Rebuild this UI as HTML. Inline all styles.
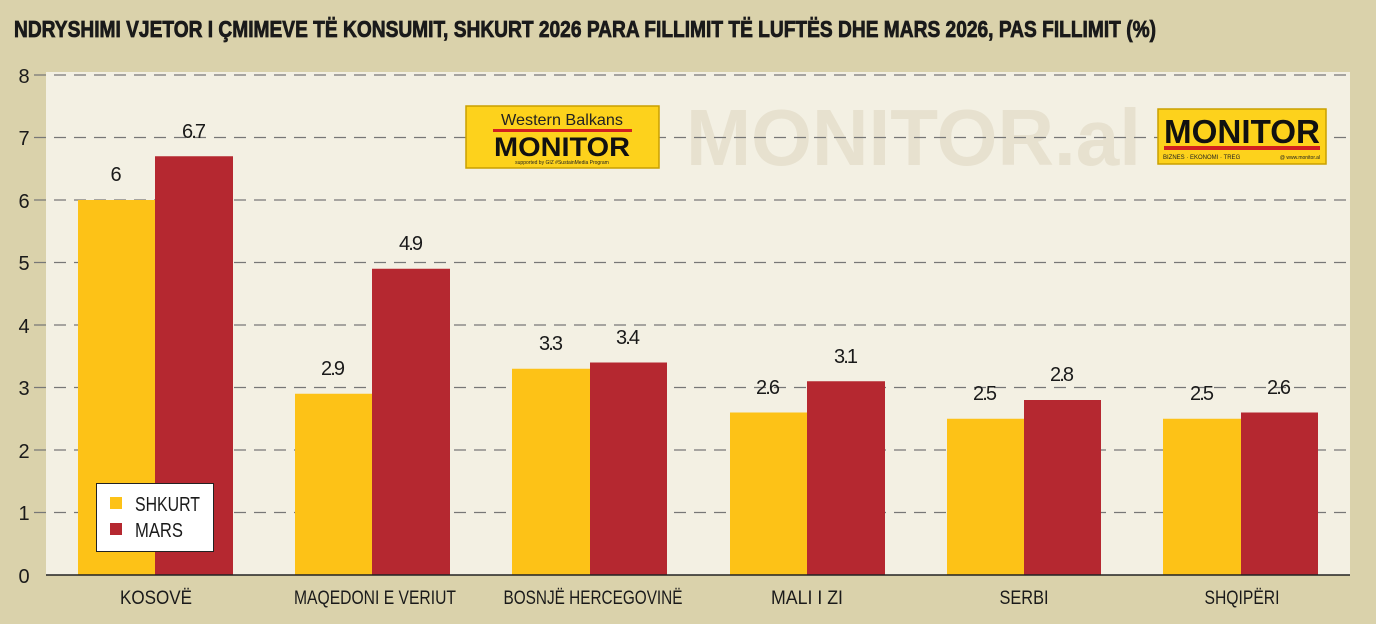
<!DOCTYPE html>
<html><head><meta charset="utf-8"><style>
html,body{margin:0;padding:0;background:#dad2ab;}
svg{display:block}
</style></head><body>
<svg width="1376" height="624" viewBox="0 0 1376 624" xmlns="http://www.w3.org/2000/svg" font-family="'Liberation Sans',sans-serif">
<rect width="1376" height="624" fill="#dad2ab"/>
<text x="14" y="37" font-size="23" font-weight="bold" fill="#1a1a1a" stroke="#1a1a1a" stroke-width="0.8" textLength="1142" lengthAdjust="spacingAndGlyphs">NDRYSHIMI VJETOR I ÇMIMEVE TË KONSUMIT, SHKURT 2026 PARA FILLIMIT TË LUFTËS DHE MARS 2026, PAS FILLIMIT (%)</text>
<rect x="46" y="72" width="1304" height="503" fill="#f3f0e3"/>
<text x="686" y="165" font-size="80" font-weight="bold" fill="#e7e1cf" textLength="455" lengthAdjust="spacingAndGlyphs">MONITOR.al</text>
<g stroke="#777" stroke-width="1.3" stroke-dasharray="12,8">
<line x1="34" y1="75" x2="1350" y2="75"/>
<line x1="34" y1="137.5" x2="1350" y2="137.5"/>
<line x1="34" y1="200" x2="1350" y2="200"/>
<line x1="34" y1="262.5" x2="1350" y2="262.5"/>
<line x1="34" y1="325" x2="1350" y2="325"/>
<line x1="34" y1="387.5" x2="1350" y2="387.5"/>
<line x1="34" y1="450" x2="1350" y2="450"/>
<line x1="34" y1="512.5" x2="1350" y2="512.5"/>
</g>
<g font-size="20" fill="#1a1a1a" text-anchor="middle">
<text x="24" y="83" textLength="10">8</text><text x="24" y="145" textLength="10">7</text><text x="24" y="208" textLength="10">6</text><text x="24" y="270" textLength="10">5</text><text x="24" y="333" textLength="10">4</text><text x="24" y="395" textLength="10">3</text><text x="24" y="458" textLength="10">2</text><text x="24" y="520" textLength="10">1</text><text x="24" y="583" textLength="10">0</text>
</g>
<!-- logo 1 -->
<rect x="466" y="106" width="193" height="62" fill="#fdd21c" stroke="#c9a000" stroke-width="1.5"/>
<text x="562" y="125" font-size="16" text-anchor="middle" fill="#222" textLength="122" lengthAdjust="spacingAndGlyphs">Western Balkans</text>
<rect x="493" y="129" width="139" height="3" fill="#d32020"/>
<text x="562" y="156" font-size="27" font-weight="bold" text-anchor="middle" fill="#111" textLength="136" lengthAdjust="spacingAndGlyphs">MONITOR</text>
<text x="562" y="164" font-size="5" text-anchor="middle" fill="#222">supported by GIZ #SustainMedia Program</text>
<!-- logo 2 -->
<rect x="1158" y="109" width="168" height="55" fill="#fdd21c" stroke="#c9a000" stroke-width="1.5"/>
<text x="1242" y="143" font-size="33" font-weight="bold" text-anchor="middle" fill="#111" textLength="156" lengthAdjust="spacingAndGlyphs">MONITOR</text>
<rect x="1164" y="146" width="156" height="4" fill="#d32020"/>
<text x="1163" y="159" font-size="6" fill="#222">BIZNES · EKONOMI · TREG</text>
<text x="1320" y="159" font-size="5" fill="#222" text-anchor="end">@ www.monitor.al</text>
<!-- bars -->
<g fill="#fdc217">
<rect x="78" y="200" width="77" height="375"/>
<rect x="295" y="393.75" width="77" height="181.25"/>
<rect x="512" y="368.75" width="78" height="206.25"/>
<rect x="730" y="412.5" width="77" height="162.5"/>
<rect x="947" y="418.75" width="77" height="156.25"/>
<rect x="1163" y="418.75" width="78" height="156.25"/>
</g>
<g fill="#b52830">
<rect x="155" y="156.25" width="78" height="418.75"/>
<rect x="372" y="268.75" width="78" height="306.25"/>
<rect x="590" y="362.5" width="77" height="212.5"/>
<rect x="807" y="381.25" width="78" height="193.75"/>
<rect x="1024" y="400" width="77" height="175"/>
<rect x="1241" y="412.5" width="77" height="162.5"/>
</g>
<line x1="46" y1="575" x2="1350" y2="575" stroke="#222" stroke-width="1.5"/>
<g font-size="20" fill="#1a1a1a" text-anchor="middle" lengthAdjust="spacingAndGlyphs">
<text x="116" y="181" textLength="10">6</text><text x="194" y="138" textLength="24">6.7</text>
<text x="333" y="375" textLength="24">2.9</text><text x="411" y="250" textLength="24">4.9</text>
<text x="551" y="350" textLength="24">3.3</text><text x="628" y="344" textLength="24">3.4</text>
<text x="768" y="394" textLength="24">2.6</text><text x="846" y="363" textLength="24">3.1</text>
<text x="985" y="400" textLength="24">2.5</text><text x="1062" y="381" textLength="24">2.8</text>
<text x="1202" y="400" textLength="24">2.5</text><text x="1279" y="394" textLength="24">2.6</text>
</g>
<g font-size="19" fill="#1a1a1a" text-anchor="middle">
<text x="156" y="604" textLength="72" lengthAdjust="spacingAndGlyphs">KOSOVË</text>
<text x="375" y="604" textLength="162" lengthAdjust="spacingAndGlyphs">MAQEDONI E VERIUT</text>
<text x="593" y="604" textLength="179" lengthAdjust="spacingAndGlyphs">BOSNJË HERCEGOVINË</text>
<text x="807" y="604" textLength="72" lengthAdjust="spacingAndGlyphs">MALI I ZI</text>
<text x="1024" y="604" textLength="49" lengthAdjust="spacingAndGlyphs">SERBI</text>
<text x="1242" y="604" textLength="75" lengthAdjust="spacingAndGlyphs">SHQIPËRI</text>
</g>
<!-- legend -->
<rect x="96.5" y="483.5" width="117" height="68" fill="#fff" stroke="#222" stroke-width="1"/>
<rect x="110" y="497" width="12" height="12" fill="#fdc217"/>
<rect x="110" y="523" width="12" height="12" fill="#b52830"/>
<text x="135" y="511" font-size="20" fill="#1a1a1a" textLength="65" lengthAdjust="spacingAndGlyphs">SHKURT</text>
<text x="135" y="537" font-size="20" fill="#1a1a1a" textLength="48" lengthAdjust="spacingAndGlyphs">MARS</text>
</svg>
</body></html>
